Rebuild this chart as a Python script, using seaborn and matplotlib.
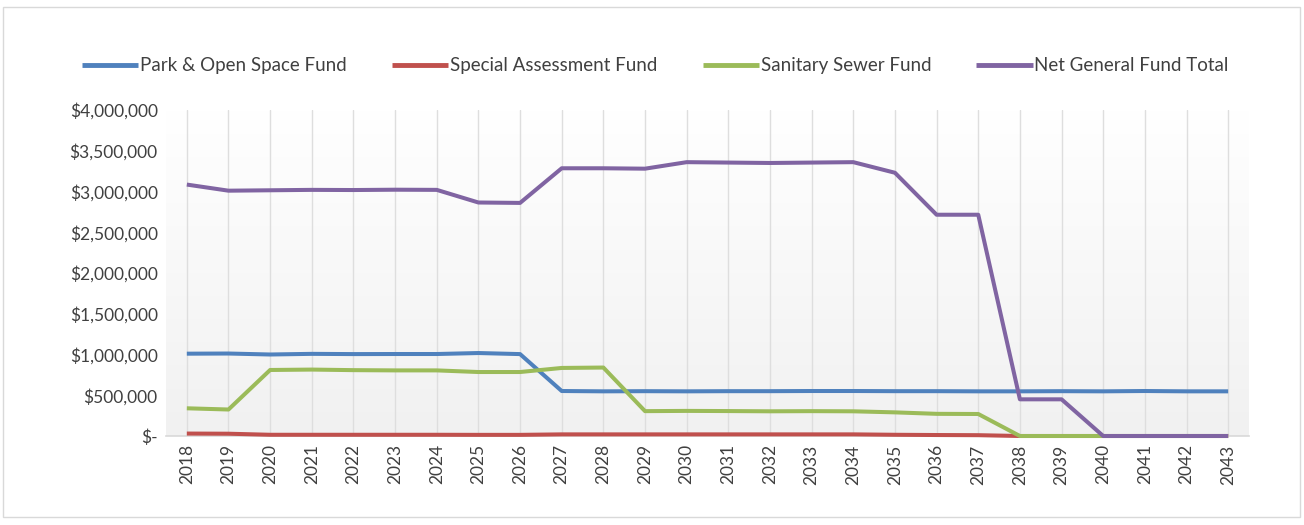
import numpy as np
import pandas as pd
import seaborn as sns
import matplotlib.pyplot as plt
from matplotlib.patches import Rectangle
from matplotlib.ticker import FuncFormatter

years = [str(y) for y in range(2018, 2044)]

park_open_space = [1010000, 1012000, 1000000, 1008000, 1005000, 1006000, 1006000, 1018000, 1005000,
                   552000, 548000, 550000, 548000, 550000, 550000, 552000, 552000, 550000,
                   550000, 548000, 548000, 550000, 548000, 552000, 548000, 548000]
special_assessment = [30000, 28000, 15000, 15000, 15000, 15000, 15000, 14000, 14000,
                      20000, 20000, 20000, 20000, 20000, 20000, 20000, 20000, 15000,
                      12000, 10000, 0, 0, 0, 0, 0, 0]
sanitary_sewer = [340000, 325000, 810000, 815000, 808000, 805000, 805000, 785000, 785000,
                  835000, 840000, 305000, 308000, 306000, 303000, 305000, 303000, 290000,
                  272000, 270000, 0, 0, 0, 0, 0, 0]
net_general = [3085000, 3010000, 3015000, 3020000, 3018000, 3022000, 3020000, 2865000, 2860000,
               3285000, 3285000, 3280000, 3360000, 3355000, 3350000, 3355000, 3360000, 3230000,
               2715000, 2715000, 450000, 450000, 0, 0, 0, 0]

series_names = ["Park & Open Space Fund", "Special Assessment Fund",
                "Sanitary Sewer Fund", "Net General Fund Total"]
colors = ["#4f81bd", "#c0504d", "#9bbb59", "#8064a2"]

df = pd.DataFrame({"Year": years * 4,
                   "Value": park_open_space + special_assessment + sanitary_sewer + net_general,
                   "Fund": np.repeat(series_names, len(years))})

sns.set_style("white")
plt.rcParams['font.family'] = ['Lato', 'DejaVu Sans']

fig = plt.figure(figsize=(13.04, 5.25), dpi=100)
ax = fig.add_axes([166 / 1304, 1 - 436 / 525, (1249 - 166) / 1304, (436 - 110) / 525])

# outer chart border
fig.patches.append(Rectangle((3 / 1304, 1 - 517 / 525), 1297 / 1304, 510 / 525,
                             transform=fig.transFigure, fill=False, edgecolor="#d9d9d9", lw=1))

# plot area gradient (white at top -> light gray at bottom)
grad = np.linspace(1.0, 0.945, 256).reshape(-1, 1)
ax.imshow(np.dstack([grad, grad, grad]), extent=[-0.5, 25.5, 0, 4000000],
          aspect="auto", origin="upper", zorder=0)

sns.lineplot(data=df, x="Year", y="Value", hue="Fund", palette=colors,
             linewidth=2.9, ax=ax, zorder=3, sort=False)
for line in ax.get_lines():
    line.set_clip_on(False)
    line.set_solid_capstyle("butt")

ax.set_xlim(-0.5, 25.5)
ax.set_ylim(0, 4000000)
ax.set_yticks(np.arange(0, 4000001, 500000))
ax.yaxis.set_major_formatter(FuncFormatter(lambda v, p: "$-" if v == 0 else f"${v:,.0f}"))
ax.set_xticks(range(len(years)))
ax.set_xticklabels(years, rotation=90)
ax.tick_params(axis="both", labelsize=12.5, colors="#404040", length=0, pad=6)
ax.set_xlabel("")
ax.set_ylabel("")

for i in range(len(years)):
    ax.axvline(i, color="#dedede", lw=1.0, zorder=1)

for s in ["top", "right", "left"]:
    ax.spines[s].set_visible(False)
ax.spines["bottom"].set_color("#d9d9d9")
ax.spines["bottom"].set_linewidth(1.2)

leg = ax.legend(loc="center", bbox_to_anchor=(0.452, 1 + 44 / 326), ncol=4,
                frameon=False, fontsize=13.5, handlelength=3.0, handletextpad=0.1,
                columnspacing=2.4, labelcolor="#404040")
for line in leg.get_lines():
    line.set_linewidth(3.5)

fig.savefig("out.png", dpi=100)
